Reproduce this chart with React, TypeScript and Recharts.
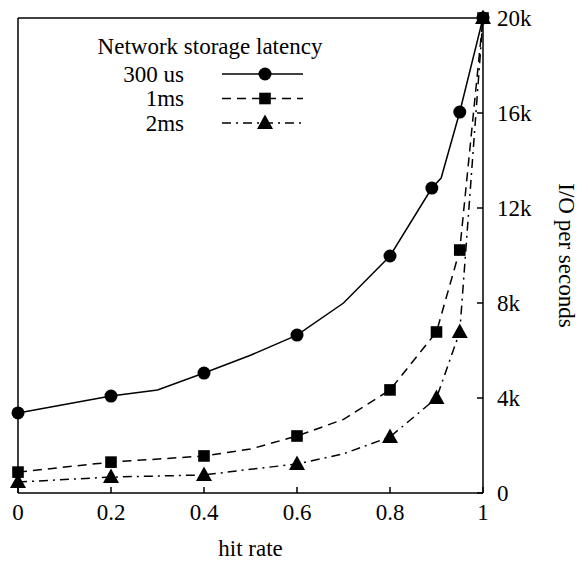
import React from 'react';
import { LineChart, Line, XAxis, YAxis, ReferenceLine, Legend } from 'recharts';

document.body.style.margin = '0';

// 300 us series
const rate300 = [0, 0.2, 0.3, 0.4, 0.5, 0.6, 0.7, 0.8, 0.89, 0.91, 0.95, 1];
const iops300 = [3370, 4080, 4340, 5050, 5800, 6650, 8000, 9980, 12840, 13260, 16040, 20000];
const marks300 = [0, 0.2, 0.4, 0.6, 0.8, 0.89, 0.95, 1];

// 1ms series
const rate1ms = [0, 0.2, 0.4, 0.5, 0.6, 0.7, 0.8, 0.9, 0.95, 1];
const iops1ms = [880, 1300, 1560, 1850, 2400, 3100, 4340, 6780, 10230, 20000];
const marks1ms = [0, 0.2, 0.4, 0.6, 0.8, 0.9, 0.95, 1];

// 2ms series
const rate2ms = [0, 0.2, 0.4, 0.5, 0.6, 0.7, 0.8, 0.9, 0.95, 1];
const iops2ms = [460, 670, 760, 1000, 1220, 1650, 2360, 4000, 6780, 20000];
const marks2ms = [0, 0.2, 0.4, 0.6, 0.8, 0.9, 0.95, 1];

const xTicks = [0, 0.2, 0.4, 0.6, 0.8, 1];
const yTicks = [0, 4000, 8000, 12000, 16000, 20000];

const toRows = (rates: number[], vals: number[]) => rates.map((r, i) => ({ rate: r, iops: vals[i] }));

const data300 = toRows(rate300, iops300);
const data1ms = toRows(rate1ms, iops1ms);
const data2ms = toRows(rate2ms, iops2ms);

const FONT = '"Liberation Serif", "Times New Roman", serif';
const FS = 23;

type Shape = 'circle' | 'square' | 'triangle';

const Marker = ({ shape, cx, cy }: { shape: Shape; cx: number; cy: number }) => {
    if (shape === 'circle') return <circle cx={cx} cy={cy} r={6.5} fill="#000" />;
    if (shape === 'square') return <rect x={cx - 5.8} y={cy - 5.8} width={11.6} height={11.6} fill="#000" />;
    return <polygon points={`${cx},${cy - 8.5} ${cx + 8},${cy + 6} ${cx - 8},${cy + 6}`} fill="#000" />;
};

const makeDot = (shape: Shape, marks: number[]) => (props: any) => {
    const { cx, cy, payload, index } = props;
    if (!marks.includes(payload.rate)) return <g key={index} />;
    return (
        <g key={index}>
            <Marker shape={shape} cx={cx} cy={cy} />
        </g>
    );
};

const legendRows = [
    { name: '300 us', shape: 'circle' as Shape, dash: undefined },
    { name: '1ms', shape: 'square' as Shape, dash: '9 6' },
    { name: '2ms', shape: 'triangle' as Shape, dash: '9 5 2 5' },
];

const LegendBox = () => (
    <svg width={340} height={140} style={{ fontFamily: FONT, fontSize: FS }}>
        <text x={210} y={54} textAnchor="middle" fill="#000">Network storage latency</text>
        {legendRows.map((r, i) => {
            const y = 74 + i * 24.5;
            return (
                <g key={r.name}>
                    <text x={184} y={y + 7.5} textAnchor="end" fill="#000">{r.name}</text>
                    <line x1={222} x2={303} y1={y} y2={y} stroke="#000" strokeWidth={1.5} strokeDasharray={r.dash} />
                    <Marker shape={r.shape} cx={265} cy={y} />
                </g>
            );
        })}
    </svg>
);

export default function App() {
    return (
        <LineChart width={581} height={561} margin={{ top: 18, right: 0, bottom: 0, left: 18 }}>
            <XAxis
                dataKey="rate"
                type="number"
                domain={[0, 1]}
                ticks={xTicks}
                height={68}
                tickSize={-6}
                tickMargin={17}
                tickFormatter={(v: number) => String(v)}
                axisLine={{ stroke: '#000', strokeWidth: 1.5 }}
                tickLine={{ stroke: '#000', strokeWidth: 1.5 }}
                tick={{ fill: '#000', fontSize: FS, fontFamily: FONT }}
                label={{ value: 'hit rate', position: 'insideBottom', offset: 5, fill: '#000', fontSize: FS, fontFamily: FONT }}
            />
            <YAxis
                orientation="right"
                type="number"
                domain={[0, 20000]}
                ticks={yTicks}
                width={98}
                tickSize={-6}
                tickMargin={20}
                tickFormatter={(v: number) => (v === 0 ? '0' : `${v / 1000}k`)}
                axisLine={{ stroke: '#000', strokeWidth: 1.5 }}
                tickLine={{ stroke: '#000', strokeWidth: 1.5 }}
                tick={{ fill: '#000', fontSize: FS, fontFamily: FONT }}
                label={{ value: 'I/O per seconds', angle: 90, position: 'center', dx: 35, fill: '#000', fontSize: FS, fontFamily: FONT }}
            />
            <ReferenceLine y={20000} stroke="#000" strokeWidth={1.5} />
            <ReferenceLine x={0} stroke="#000" strokeWidth={1.5} />
            <Line
                data={data300}
                dataKey="iops"
                type="linear"
                stroke="#000"
                strokeWidth={1.5}
                dot={makeDot('circle', marks300)}
                activeDot={false}
                isAnimationActive={false}
            />
            <Line
                data={data1ms}
                dataKey="iops"
                type="linear"
                stroke="#000"
                strokeWidth={1.5}
                strokeDasharray="9 6"
                dot={makeDot('square', marks1ms)}
                activeDot={false}
                isAnimationActive={false}
            />
            <Line
                data={data2ms}
                dataKey="iops"
                type="linear"
                stroke="#000"
                strokeWidth={1.5}
                strokeDasharray="9 5 2 5"
                dot={makeDot('triangle', marks2ms)}
                activeDot={false}
                isAnimationActive={false}
            />
            <Legend
                layout="horizontal"
                verticalAlign="middle"
                wrapperStyle={{ left: 0, top: 0, width: 340, height: 140 }}
                content={() => <LegendBox />}
            />
        </LineChart>
    );
}
